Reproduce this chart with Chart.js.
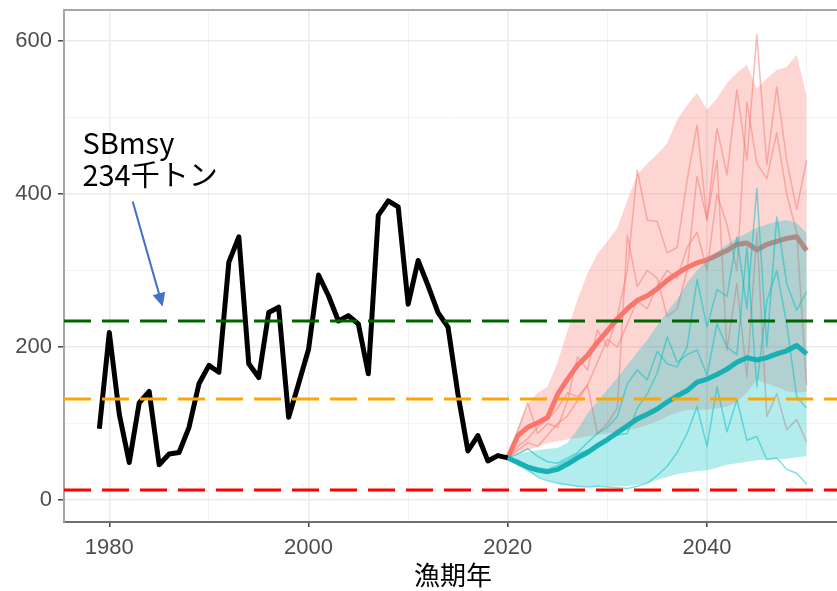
<!DOCTYPE html>
<html>
<head>
<meta charset="utf-8">
<script src="https://cdn.jsdelivr.net/npm/chart.js@4.4.1/dist/chart.umd.min.js"></script>
<style>
  html, body { margin: 0; padding: 0; background: #fff; overflow: hidden; }
  #wrap { width: 842px; height: 591px; }
</style>
</head>
<body>
<div id="wrap"><canvas id="grafico" width="842" height="591"></canvas></div>
<script>
// Dados históricos (漁期年 / 親魚量 千トン)
const anosHist = [1979, 1980, 1981, 1982, 1983, 1984, 1985, 1986, 1987, 1988, 1989, 1990, 1991, 1992,
  1993, 1994, 1995, 1996, 1997, 1998, 1999, 2000, 2001, 2002, 2003, 2004, 2005, 2006, 2007, 2008,
  2009, 2010, 2011, 2012, 2013, 2014, 2015, 2016, 2017, 2018, 2019, 2020];
const sbHist = [93, 219, 112, 49, 127, 142, 46, 60, 62, 95, 152, 176, 167, 311,
  344, 178, 160, 245, 252, 108, 152, 197, 294, 267, 234, 241, 230, 165, 372, 391,
  383, 256, 313, 280, 245, 226, 138, 64, 84, 51, 58, 55];

// Projeções 2020-2050
const anosProj = [2020, 2021, 2022, 2023, 2024, 2025, 2026, 2027, 2028, 2029, 2030, 2031, 2032, 2033,
  2034, 2035, 2036, 2037, 2038, 2039, 2040, 2041, 2042, 2043, 2044, 2045, 2046, 2047, 2048, 2049, 2050];

// cenário vermelho
const redMedian = [55, 84, 95, 101, 108, 138, 158, 176, 189, 206, 221, 237, 250, 261,
  267, 276, 287, 296, 304, 310, 314, 320, 326, 334, 336, 327, 334, 338, 342, 344, 326];
const redUpper = [55, 95, 125, 140, 148, 180, 222, 262, 296, 322, 338, 356, 392, 425,
  440, 452, 466, 497, 516, 532, 510, 525, 545, 558, 569, 538, 551, 562, 566, 582, 527];
const redLower = [55, 60, 65, 70, 74, 77, 79, 81, 83, 85, 87, 89, 91, 94,
  98, 103, 109, 114, 118, 118, 118, 120, 122, 128, 140, 157, 152, 148, 142, 140, 141];
const redSim1 = [55, 90, 127, 87, 100, 95, 130, 187, 170, 222, 200, 240, 300, 431,
  366, 364, 323, 330, 418, 490, 366, 486, 425, 536, 444, 608, 438, 540, 444, 380, 444];
const redSim2 = [55, 70, 80, 95, 105, 120, 140, 135, 150, 87, 100, 120, 346, 279,
  300, 290, 240, 250, 300, 423, 366, 444, 196, 283, 161, 350, 109, 139, 92, 105, 76];
const redSim3 = [55, 65, 75, 70, 85, 100, 110, 130, 150, 180, 210, 200, 230, 260,
  250, 280, 300, 290, 330, 350, 300, 400, 360, 300, 520, 440, 420, 480, 400, 350, 150];

// cenário azul-esverdeado
const tealMedian = [55, 49, 43, 39, 37, 40, 47, 55, 62, 71, 79, 88, 97, 106,
  112, 119, 128, 136, 143, 154, 158, 164, 171, 180, 186, 183, 186, 191, 195, 202, 191];
const tealUpper = [55, 60, 63, 65, 67, 68, 75, 92, 113, 129, 144, 160, 176, 193,
  209, 228, 246, 262, 284, 300, 314, 324, 334, 342, 349, 356, 360, 364, 366, 362, 349];
const tealLower = [55, 44, 37, 31, 26, 22, 20, 18, 18, 18, 18, 18, 18, 20,
  22, 26, 30, 34, 36, 38, 39, 42, 46, 48, 50, 52, 53, 54, 54, 56, 57];
const tealSim1 = [55, 48, 40, 30, 25, 22, 20, 18, 17, 18, 17, 16, 15, 18,
  22, 32, 44, 62, 87, 122, 70, 148, 89, 131, 78, 83, 53, 55, 40, 35, 21];
const tealSim2 = [55, 60, 67, 57, 50, 48, 55, 62, 75, 87, 95, 109, 152, 170,
  157, 194, 178, 174, 200, 288, 226, 275, 266, 344, 250, 407, 200, 370, 283, 248, 272];
const tealSim3 = [55, 52, 45, 42, 40, 45, 52, 60, 65, 72, 80, 85, 87, 120,
  139, 166, 213, 180, 190, 196, 163, 230, 200, 190, 330, 148, 260, 300, 230, 135, 120];

// Linhas de referência
const refValores = [234, 132, 13];
const refCores = ['#006400', '#FFA500', '#FF0000'];

// Eixos
const xMin = 1975.45, xMax = 2053.55;
const yMin = -28.8, yMax = 640.5;
const xTicks = [1980, 1990, 2000, 2010, 2020, 2030, 2040, 2050];
const xLabels = [1980, 2000, 2020, 2040];
const yTicks = [0, 100, 200, 300, 400, 500, 600];
const yLabels = [0, 200, 400, 600];

function pontos(anos, valores) {
  return anos.map((a, i) => ({ x: a, y: valores[i] }));
}

function linha(anos, valores, cor, largura, ordem) {
  return {
    data: pontos(anos, valores),
    borderColor: cor,
    borderWidth: largura,
    pointRadius: 0,
    fill: false,
    tension: 0,
    borderJoinStyle: 'round',
    borderCapStyle: 'butt',
    order: ordem
  };
}

const datasets = [];
// faixa vermelha (upper preenche até lower)
datasets.push(Object.assign(linha(anosProj, redUpper, 'rgba(0,0,0,0)', 0, 100),
  { fill: '+1', backgroundColor: 'rgba(248,118,109,0.3)' }));
datasets.push(linha(anosProj, redLower, 'rgba(0,0,0,0)', 0, 99));
[redSim1, redSim2, redSim3].forEach(s => datasets.push(linha(anosProj, s, 'rgba(248,118,109,0.5)', 1.5, 90)));
datasets.push(linha(anosProj, redMedian, '#F8766D', 5, 80));
// faixa azul
datasets.push(Object.assign(linha(anosProj, tealUpper, 'rgba(0,0,0,0)', 0, 70),
  { fill: '+1', backgroundColor: 'rgba(0,191,196,0.3)' }));
datasets.push(linha(anosProj, tealLower, 'rgba(0,0,0,0)', 0, 69));
[tealSim1, tealSim2, tealSim3].forEach(s => datasets.push(linha(anosProj, s, 'rgba(0,191,196,0.5)', 1.5, 60)));
datasets.push(linha(anosProj, tealMedian, '#17B1B3', 5, 50));
// histórico
datasets.push(linha(anosHist, sbHist, '#000000', 5, 40));
// linhas tracejadas
refValores.forEach((v, i) => {
  const d = linha([xMin, xMax], [v, v], refCores[i], 3, 10);
  d.borderDash = [27, 11];
  datasets.push(d);
});

// Plugin: borda superior, título cortado, anotação SBmsy
const extras = {
  id: 'extras',
  afterDraw(chart) {
    const ctx = chart.ctx;
    const a = chart.chartArea;
    const sx = chart.scales.x, sy = chart.scales.y;
    ctx.save();
    // borda superior do painel
    ctx.strokeStyle = '#A6A6A6';
    ctx.lineWidth = 2;
    ctx.beginPath();
    ctx.moveTo(a.left, a.top);
    ctx.lineTo(a.right, a.top);
    ctx.stroke();

    // título (cortado na parte de cima)
    ctx.fillStyle = '#000';
    ctx.font = '38px "Noto Sans CJK JP"';
    ctx.textAlign = 'center';
    ctx.textBaseline = 'alphabetic';
    ctx.fillText('親魚量（千トン）', 482, -5);

    // texto da anotação
    ctx.textAlign = 'left';
    ctx.font = '29px "Noto Sans CJK JP"';
    ctx.fillText('SBmsy', sx.getPixelForValue(1977.3), sy.getPixelForValue(452));
    ctx.fillText('234千トン', sx.getPixelForValue(1977.3), sy.getPixelForValue(410));

    // seta
    const x0 = sx.getPixelForValue(1982.35), y0 = sy.getPixelForValue(390);
    const x1 = sx.getPixelForValue(1985.35), y1 = sy.getPixelForValue(253);
    const ang = Math.atan2(y1 - y0, x1 - x0);
    const cab = 15, abert = 0.45;
    ctx.strokeStyle = '#4472C4';
    ctx.fillStyle = '#4472C4';
    ctx.lineWidth = 2;
    ctx.beginPath();
    ctx.moveTo(x0, y0);
    ctx.lineTo(x1 - Math.cos(ang) * cab * 0.8, y1 - Math.sin(ang) * cab * 0.8);
    ctx.stroke();
    ctx.beginPath();
    ctx.moveTo(x1, y1);
    ctx.lineTo(x1 - cab * Math.cos(ang - abert), y1 - cab * Math.sin(ang - abert));
    ctx.lineTo(x1 - cab * Math.cos(ang + abert), y1 - cab * Math.sin(ang + abert));
    ctx.closePath();
    ctx.fill();
    ctx.restore();
  }
};

const ehMaior = (lista, v) => lista.indexOf(v) >= 0;

new Chart(document.getElementById('grafico').getContext('2d'), {
  type: 'line',
  data: { datasets: datasets },
  plugins: [extras],
  options: {
    responsive: false,
    animation: false,
    devicePixelRatio: 1,
    layout: { padding: { top: 10, left: 0, right: 0, bottom: 0 } },
    plugins: { legend: { display: false }, tooltip: { enabled: false } },
    scales: {
      x: {
        type: 'linear',
        min: xMin,
        max: xMax,
        afterBuildTicks: s => { s.ticks = xTicks.map(v => ({ value: v })); },
        afterFit: s => { s.height = 69; s.paddingLeft = 0; s.paddingRight = 0; },
        border: { display: true, color: '#6E6E6E', width: 2 },
        grid: {
          color: c => ehMaior(xLabels, c.tick.value) ? '#EBEBEB' : '#F3F3F3',
          lineWidth: c => ehMaior(xLabels, c.tick.value) ? 1.6 : 1,
          tickColor: c => ehMaior(xLabels, c.tick.value) ? '#444' : 'rgba(0,0,0,0)',
          tickLength: 5,
          tickWidth: 1.5
        },
        ticks: {
          autoSkip: false,
          maxRotation: 0,
          padding: 8,
          color: '#4D4D4D',
          font: { family: 'Liberation Sans', size: 22 },
          callback: v => ehMaior(xLabels, v) ? String(v) : ''
        },
        title: {
          display: true,
          text: '漁期年',
          color: '#000',
          font: { family: 'Noto Sans CJK JP', size: 26 },
          padding: { top: 0, bottom: 0 }
        }
      },
      y: {
        type: 'linear',
        min: yMin,
        max: yMax,
        afterBuildTicks: s => { s.ticks = yTicks.map(v => ({ value: v })); },
        afterFit: s => { s.width = 64; s.paddingTop = 0; s.paddingBottom = 0; },
        border: { display: true, color: '#A6A6A6', width: 2 },
        grid: {
          color: c => ehMaior(yLabels, c.tick.value) ? '#EBEBEB' : '#F3F3F3',
          lineWidth: c => ehMaior(yLabels, c.tick.value) ? 1.6 : 1,
          tickColor: c => ehMaior(yLabels, c.tick.value) ? '#444' : 'rgba(0,0,0,0)',
          tickLength: 6,
          tickWidth: 1.5
        },
        ticks: {
          autoSkip: false,
          padding: 6,
          color: '#4D4D4D',
          font: { family: 'Liberation Sans', size: 22 },
          callback: v => ehMaior(yLabels, v) ? String(v) : ''
        }
      }
    }
  }
});
</script>
</body>
</html>
